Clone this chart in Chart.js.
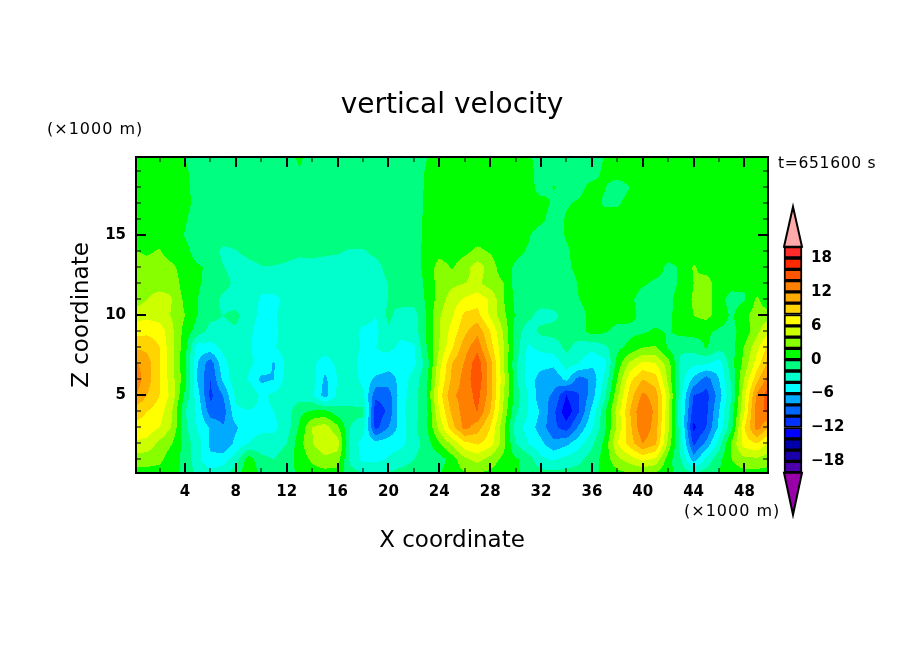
<!DOCTYPE html>
<html>
<head>
<meta charset="utf-8">
<title>vertical velocity</title>
<script src="https://cdn.jsdelivr.net/npm/chart.js@4/dist/chart.umd.min.js"></script>
<style>
  html, body { margin: 0; padding: 0; background: #fff; }
  #wrap { position: relative; width: 904px; height: 654px; overflow: hidden; }
  #main { position: absolute; left: 0; top: 0; }
  #barra { position: absolute; left: 770px; top: 191px; }
</style>
</head>
<body>
<div id="wrap">
  <canvas id="main" width="904" height="654"></canvas>
  <canvas id="barra" width="134" height="340"></canvas>
</div>
<script>
// 1. DATA: vertical velocity, one row per km of height, one value per km of X
const w00 = [1,1,1,.6,-.5, -2.5,-3,-2.5,-.5,1.5, -.2,-1.2,-1,.5,1,1,1, -1,-1.5,-1.5,-1.5,-1,-1,-1, 0,1.2,1.5,1.5,1.3,.6,.3,-.5, -1,-1,-1,-1,-.5, .5,1.2,1.3,1.5,1.2,.3,-.5,-1,-.8,.2,1,1,1,1];
const w01 = [3,2.9,2.5,.8,-.5, -3.5,-5.5,-5,-3,1.2, -1.5,-2,-1,.8,2.4,3.4,3, -2.5,-4.5,-4.6,-3.8,-3,-2,-1, -1,1,3.5,4.7,3.2,1.5,.3,-1, -3.5,-4.2,-3.3,-2.5,-1, .8,3.5,5,6.5,5.5,1,-2,-7,-3.5,-.5,2,3.5,3.5,2.8];
const w02 = [5.8,5.3,3.5,2,-1, -3,-6.5,-7.5,-5.5,-4, -3.2,-3,-2,1.2,3.9,5.8,5, -2.8,-4.7,-5.2,-4.8,-4.5,-3,-1, 1.8,4.5,7.5,8.3,7,3,-2,-4, -5.5,-7.5,-6.5,-4.7,-2.5, .5,6,9,12,10.5,3.5,-3,-10.5,-7.5,-3,2.5,7,8,5.5];
const w03 = [7.5,7.2,6,3.8,-1.5, -4.2,-6.2,-7.8,-6.3,-4.7, -4.5,-4.5,-3,.3,4,5,2.5, -2,-3,-10.7,-8,-5,-2.5,-.3, 4.7,9.2,12.7,11,8,2.9,-3,-4.8, -7,-9.5,-11,-7.5,-4.3, -.5,4.5,9.5,13.8,11,4.5,-3.5,-12.5,-10,-5.5,-.5,8,13,9.5];
const w04 = [9,8,7,4,-1.8, -4.5,-9.2,-9,-4.5,-4.2, -4.5,-4,-3,-.5,.2,.5,-1.2, -1.5,-1.5,-11.5,-9.5,-4.5,-2.8,-.5, 6,10.5,13,14,10,3.9,-1.5,-4, -6.3,-9.5,-13.5,-10,-5.5, -.5,4.8,10,14,11.5,4.5,-4,-11,-10.5,-6,-1,6,13.5,14.5];
const w05 = [12.4,10,8,5.2,-.5, -5.2,-10.5,-8,-3.5,-2, -4.5,-3.5,-3,-3,-3.5,-7,-3.5, -3,-3.5,-9.5,-9,-4.8,-3,0, 7,11.7,12.7,14.7,11,4.5,-1,-4, -7.5,-8.2,-12,-10,-7, -2.5,3.5,9,12.5,11,5,-3.5,-10,-10.8,-7,-2,5.5,12.5,15.5];
const w06 = [13.5,11,8.2,4.7,.8, -6.3,-10,-5.5,-2.5,-4.2, -6.5,-6,-3.2,-3,-3,-6.5,-4, -3,-4.5,-6.5,-7,-5.3,-3,-.5, 6,10.5,12.8,15.5,11,5,-1.5,-5, -6.8,-7.5,-5.5,-9,-7.5, -3.5,2,7.5,10,9,3.5,-3,-6.5,-9,-6,-1.5,4.2,9.5,13.5];
const w07 = [12.5,11,8.2,4.5,.3, -6,-9.2,-4.5,-3,-3.5, -4.7,-6.2,-3.5,-3,-3.5,-5,-3.5, -3,-5,-4.5,-5,-5.5,-4.5,-1.2, 5.3,10,12.2,15.3,11,4.5,-1.5,-5, -5.3,-5.5,-3,-4,-5.5, -4.7,.8,4.5,6.5,6,3,-2.7,-3.5,-3.7,-5,-.6,2.7,7,11];
const w08 = [9.8,9.5,8,4.4,.8, -5,-4.7,-3.5,-3,-3.7, -5,-4.2,-3,-3,-3,-3,-3, -3,-4.3,-4,-3.5,-4.5,-4.3,0, 4,7.7,11.2,13.3,9,4.5,-1,-4.3, -3.5,-3,-1.5,-2.8,-3.5, -2.5,-.5,.5,2,2.2,-.3,-1.5,-1.3,.2,-1.3,-.8,2.2,5.5,9];
const w09 = [7.3,7.5,7.2,4.4,1.2, -1,-2.7,-2.5,-2.3,-3.5, -5,-4.5,-3,-3,-3,-3,-3, -3,-4.5,-4.5,-2.3,-3.5,-3,.1, 3.9,6.8,9.5,11.5,8,4,-1,-3, -1.5,-1.3,-1.3,-1,.8, .3,-.7,-.5,-.3,.3,-.2,.6,.8,.3,-.3,-.5,.8,3.5,6];
const w10 = [5,5.5,5,3.8,2, 0,-1.5,-2,-1.5,-3, -4.5,-4.3,-3,-3,-3,-3,-3, -3,-3,-4,-1.5,-3,-3,.2, 3.8,5.7,8.5,8.7,5.6,2.7,-.2,-1.5, -2.8,-2.5,-1,-1,.8, 1,.8,.5,-.5,-1,-.5,1,2,2.7,1,-.3,1.5,3,3.2];
const w11 = [2.8,4,5,4,1.5, 0,-1,-2.5,-3,-3.5, -4.1,-4.5,-3.5,-3,-3,-3,-3, -3,-3,-3,-2,-1,-1,.2, 3,5,6.3,7.2,5.8,2.2,-.5,-1, -1,-1,-1,0,1, 1,.8,.5,-1,-1,-.3,.5,2.3,3,.7,-.8,-.2,2.5,-.3];
const w12 = [2.5,3,3,3.5,.8, .2,-.5,-1.2,-2.5,-3, -3.8,-3,-3,-3,-3,-3,-3, -3,-3,-3,-2,-1,-.8,.3, 3,3.5,4,4.5,3,2.2,-.8,-1, -1,-1,-1,.2,1, 1,1,1,.3,-.4,-.5,.2,2,2.8,1,.8,.3,.3,0];
const w13 = [2.5,2.8,3,2.5,.8, .2,-.3,-1.9,-2.8,-2.6, -2.1,-2.1,-2.3,-2.7,-2.6,-2.7,-2.8, -3,-3,-2.7,-1.3,-1,-.7,.5, 3,1.8,3.2,5,3.2,.8,-.3,-1, -1,-1,-.3,.5,1, 1,1,1,1,1,-.5,.2,2.2,1.3,1,1,.5,1,1];
const w14 = [2.2,1.7,2.2,.8,.5, -.7,-1,-2.5,-2.1,-1.5, -1.2,-1.2,-1.4,-1.6,-1.5,-1.7,-1.8, -2.2,-2.2,-1.5,-1,-1,-.7,.5, 1.2,1,1.5,2.5,1.8,.8,.5,-.2, -1,-1,-.3,.8,1, 1,1,1,1,1,1,1,1,1,1,1,1,1,1];
const w15 = [1,1,1,.8,-.1, -1,-1,-1,-1,-1, -1,-1,-1,-1,-1,-1,-1, -1,-1,-1,-1,-1,-.5,.3, 1,1,1,1,1,1,.7,.2, -1,-1,.2,1,1, 1,1,1,1,1,1,1,1,1,1,1,1,1,1];
const w16 = [1,1,1,1,.2, -1,-1,-1,-1,-1, -1,-1,-1,-1,-1,-1,-1, -1,-1,-1,-1,-1,-1,.5, 1,1,1,1,1,1,1,1, .5,-1,.2,1,1, 1,1,1,1,1,1,1,1,1,1,1,1,1,1];
const w17 = [1,1,1,1,.6, -.6,-1,-1,-1,-1, -1,-1,-1,-1,-1,-1,-1, -1,-1,-1,-1,-1,-1,.4, 1,1,1,1,1,1,1,.5, .7,-.3,-.2,.3,.8, -.3,-.3,.8,1,1,1,1,1,1,1,1,1,1,1];
const w18 = [1,1,1,1,.5, -.8,-1,-1,-1,-1, -1,-1,-1,-1,-1,-1,-1, -1,-1,-1,-1,-1,-1,.3, 1,1,1,1,1,1,1,.8, -.8,.1,-1,-.6,.7, .1,-1,0,1,1,1,1,1,1,1,1,1,1,1];
const w19 = [1,1,1,1,.4, -1,-1,-1,-1,-1, -1,-1,-1,-.2,-1,-1,-1, -1,-1,-1,-1,-1,-1,.2, 1,1,1,1,1,1,1,.6, -.8,-.5,-1,-1,-1, .5,1,1,1,1,1,1,1,1,1,1,1,1,1];
const w20 = [.8,.8,.8,.8,-.1, -1,-1,-1,-1,-1, -1,-1,-1,.5,-1,-1,-1, -1,-1,-1,-1,-1,-1,-.1, 1,1,1,1,1,1,1,.4, -1,-1,-1,-1,-1, 0,1,1,1,1,1,1,1,1,1,1,1,1,1];
const filas = [w00,w01,w02,w03,w04,w05,w06,w07,w08,w09,w10,w11,w12,w13,w14,w15,w16,w17,w18,w19,w20];

const xTicks = [4,8,12,16,20,24,28,32,36,40,44,48];
const xMinor = [2,6,10,14,18,22,26,30,34,38,42,46];
const zTicks = [5,10,15];
const zMinor = [1,2,3,4,6,7,8,9,11,12,13,14,16,17,18,19];
const barTicks = [-18,-12,-6,0,6,12,18];

// one colour per 2-wide band, from -20 upwards
const colores = ['#4b00aa','#1a00aa','#0000aa','#0000ff','#0033ff','#0066ff','#00aaff','#00ffff','#00ffcc','#00ff80',
                 '#00ff00','#88ff00','#ccff00','#ffff00','#ffd400','#ffaa00','#ff8000','#ff5500','#ff2a00','#ff2a2a'];
const colorBajo = '#9900aa';
const colorAlto = '#ffaaaa';

const FUENTE = '"DejaVu Sans"';
Chart.defaults.font.family = FUENTE;
Chart.defaults.color = '#000';

function colorDe(v) {
    if (v < -20) return colorBajo;
    if (v >= 20) return colorAlto;
    return colores[Math.floor((v + 20) / 2)];
}

// value at (x, z) between the four nearest read values, this is what places the contour edges
function valorEn(x, z) {
    const i = Math.min(Math.max(Math.floor(x), 0), 49);
    const j = Math.min(Math.max(Math.floor(z), 0), 19);
    const fx = x - i, fz = z - j;
    return (filas[j][i] * (1 - fx) + filas[j][i + 1] * fx) * (1 - fz)
         + (filas[j + 1][i] * (1 - fx) + filas[j + 1][i + 1] * fx) * fz;
}

// 2. FILLED CONTOURS, pixel rows through the chart scales
const contornos = {
    id: 'contornos',
    beforeDatasetsDraw(chart) {
        const { ctx, chartArea: a, scales } = chart;
        const izq = Math.round(a.left), der = Math.round(a.right);
        for (let py = Math.round(a.top); py < Math.round(a.bottom); py++) {
            const z = scales.y.getValueForPixel(py + 0.5);
            let ini = izq, actual = null;
            for (let px = izq; px <= der; px++) {
                const c = px < der ? colorDe(valorEn(scales.x.getValueForPixel(px + 0.5), z)) : null;
                if (c !== actual) {
                    if (actual) {
                        ctx.fillStyle = actual;
                        ctx.fillRect(ini, py, px - ini, 1);
                    }
                    ini = px;
                    actual = c;
                }
            }
        }
    }
};

// 3. FRAME, INWARD TICKS AND THE FREE LABELS
const marco = {
    id: 'marco',
    afterDraw(chart) {
        const { ctx, chartArea: a, scales } = chart;
        ctx.save();
        ctx.strokeStyle = '#000';
        const marcaX = (v, largo, ancho) => {
            const p = Math.round(scales.x.getPixelForValue(v));
            ctx.lineWidth = ancho;
            ctx.beginPath();
            ctx.moveTo(p, a.bottom); ctx.lineTo(p, a.bottom - largo);
            ctx.moveTo(p, a.top); ctx.lineTo(p, a.top + largo);
            ctx.stroke();
        };
        const marcaZ = (v, largo, ancho) => {
            const p = Math.round(scales.y.getPixelForValue(v));
            ctx.lineWidth = ancho;
            ctx.beginPath();
            ctx.moveTo(a.left, p); ctx.lineTo(a.left + largo, p);
            ctx.moveTo(a.right, p); ctx.lineTo(a.right - largo, p);
            ctx.stroke();
        };
        xMinor.forEach(v => marcaX(v, 5, 1));
        xTicks.forEach(v => marcaX(v, 10, 2));
        zMinor.forEach(v => marcaZ(v, 5, 1));
        zTicks.forEach(v => marcaZ(v, 10, 2));
        ctx.lineWidth = 2;
        ctx.strokeRect(a.left, a.top, a.right - a.left, a.bottom - a.top);

        ctx.fillStyle = '#000';
        ctx.textBaseline = 'middle';
        ctx.textAlign = 'center';
        ctx.font = '28px ' + FUENTE;
        ctx.fillText('vertical velocity', 452, 106);
        ctx.textAlign = 'left';
        ctx.letterSpacing = '1px';
        ctx.font = '500 16px ' + FUENTE;
        ctx.fillText('(×1000 m)', 47, 130);
        ctx.fillText('(×1000 m)', 684, 512);
        ctx.letterSpacing = '0.7px';
        ctx.font = '15.5px ' + FUENTE;
        ctx.fillText('t=651600 s', 778, 164);
        ctx.letterSpacing = '0px';
        ctx.restore();
    }
};

// 4. MAIN CHART
const puntos = [];
filas.forEach((fila, z) => fila.forEach((w, x) => puntos.push({ x: x, y: z, w: w })));

new Chart(document.getElementById('main').getContext('2d'), {
    type: 'scatter',
    data: { datasets: [{ label: 'vertical velocity', data: puntos, pointRadius: 0, showLine: false }] },
    plugins: [contornos, marco],
    options: {
        responsive: false,
        animation: false,
        events: [],
        layout: { padding: { left: 68, right: 136, top: 157, bottom: 99 } },
        plugins: {
            legend: { display: false },
            tooltip: { enabled: false },
            title: { display: false }
        },
        scales: {
            x: {
                type: 'linear', min: 0.15, max: 49.85,
                afterBuildTicks: s => { s.ticks = xTicks.map(v => ({ value: v })); },
                afterFit: s => { s.height = 82; },
                grid: { display: false, drawTicks: false }, border: { display: false },
                ticks: { autoSkip: false, maxRotation: 0, padding: 10, font: { size: 15, weight: 'bold' } },
                title: { display: true, text: 'X coordinate', font: { size: 23, weight: 'normal' }, padding: { top: 0, bottom: 0 } }
            },
            y: {
                type: 'linear', min: 0.15, max: 19.9,
                afterBuildTicks: s => { s.ticks = zTicks.map(v => ({ value: v })); },
                afterFit: s => { s.width = 68; },
                grid: { display: false, drawTicks: false }, border: { display: false },
                ticks: { padding: 10, font: { size: 15, weight: 'bold' } },
                title: { display: true, text: 'Z coordinate', font: { size: 23, weight: 'normal' }, padding: { top: 0, bottom: 0 } }
            }
        }
    }
});

// 5. COLOUR BAR
const puntas = {
    id: 'puntas',
    afterDraw(chart) {
        const { ctx, chartArea: a, scales } = chart;
        const medio = (a.left + a.right) / 2;
        const arriba = scales.y.getPixelForValue(20), abajo = scales.y.getPixelForValue(-20);
        ctx.save();
        ctx.strokeStyle = '#000';
        ctx.lineWidth = 2;
        [[arriba, arriba - 40, colorAlto], [abajo, abajo + 42, colorBajo]].forEach(([base, punta, color]) => {
            ctx.beginPath();
            ctx.moveTo(a.left, base);
            ctx.lineTo(medio, punta);
            ctx.lineTo(a.right, base);
            ctx.closePath();
            ctx.fillStyle = color;
            ctx.fill();
            ctx.stroke();
        });
        ctx.restore();
    }
};

new Chart(document.getElementById('barra').getContext('2d'), {
    type: 'bar',
    data: {
        labels: ['w'],
        datasets: colores.map((c, i) => ({
            data: [[-20 + i * 2, -18 + i * 2]],
            backgroundColor: c,
            borderColor: '#000',
            borderWidth: 2,
            borderSkipped: false,
            barPercentage: 1,
            categoryPercentage: 1,
            grouped: false,
            clip: false
        }))
    },
    plugins: [puntas],
    options: {
        responsive: false,
        animation: false,
        events: [],
        layout: { padding: { left: 14, right: 0, top: 55.7, bottom: 58.3 } },
        plugins: { legend: { display: false }, tooltip: { enabled: false } },
        scales: {
            x: { display: false },
            y: {
                position: 'right', min: -20, max: 20,
                afterBuildTicks: s => { s.ticks = barTicks.map(v => ({ value: v })); },
                afterFit: s => { s.width = 102; },
                grid: { display: false, drawTicks: false }, border: { display: false },
                ticks: {
                    padding: 9, crossAlign: 'near',
                    font: { size: 15, weight: 'bold' },
                    callback: v => (v < 0 ? '\u2212' + (-v) : '' + v)
                }
            }
        }
    }
});
</script>
</body>
</html>
